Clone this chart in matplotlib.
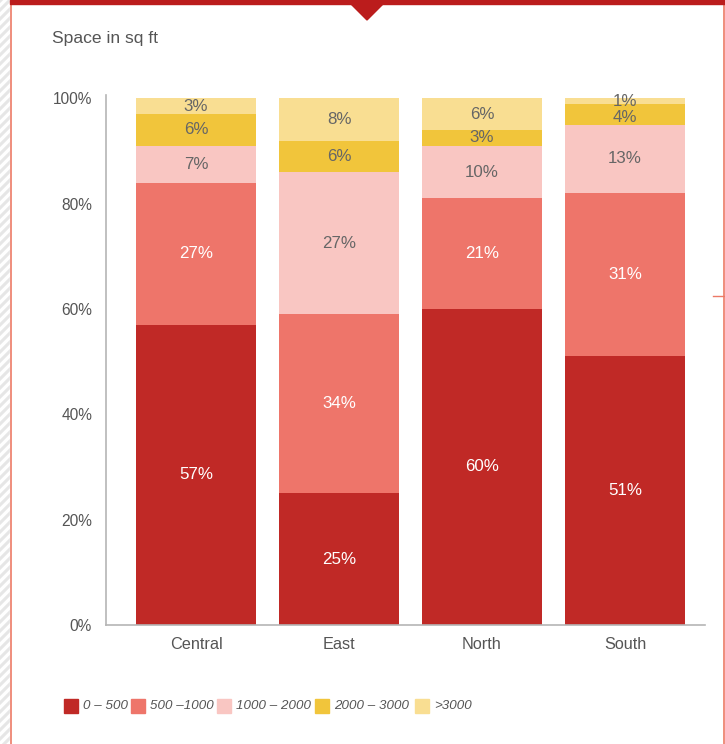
import numpy as np
import matplotlib.pyplot as plt
from matplotlib.patches import Rectangle, Polygon
from matplotlib.lines import Line2D

plt.rcParams['font.family'] = ['Liberation Sans', 'DejaVu Sans']

regions = ["Central", "East", "North", "South"]
bands = ["0 – 500", "500 –1000", "1000 – 2000", "2000 – 3000", ">3000"]
share_0_500 = [57, 25, 60, 51]
share_500_1000 = [27, 34, 21, 31]
share_1000_2000 = [7, 27, 10, 13]
share_2000_3000 = [6, 6, 3, 4]
share_over_3000 = [3, 8, 6, 1]

series = [share_0_500, share_500_1000, share_1000_2000, share_2000_3000, share_over_3000]
colors = ["#c02926", "#ee756a", "#f9c6c2", "#f1c53b", "#f9de92"]
label_colors = ["white", "white", "#666666", "#666666", "#666666"]

fig = plt.figure(figsize=(7.25, 7.44), dpi=100)
ax = fig.add_axes([106 / 725, 0.16, 599 / 725, 0.712])

x = np.arange(len(regions))
bottom = np.zeros(len(regions))
segments = []
for vals, col, tcol in zip(series, colors, label_colors):
    vals = np.array(vals, dtype=float)
    ax.bar(x, vals, width=0.84, bottom=bottom, color=col, linewidth=0)
    segments.append((bottom.copy(), vals, tcol))
    bottom += vals

# labels placed top-down so thin segments don't collide
for i, xi in enumerate(x):
    prev = None
    for b, vals, tcol in reversed(segments):
        y = b[i] + vals[i] / 2
        if prev is not None:
            y = min(y, prev - 3.2)
        prev = y
        ax.text(xi, y, f"{int(vals[i])}%", ha="center", va="center",
                color=tcol, fontsize=12.2)

ax.set_xlim(-0.63, 3.56)
ax.set_ylim(0, 100.6)
ax.set_yticks([0, 20, 40, 60, 80, 100])
ax.set_yticklabels([f"{t}%" for t in [0, 20, 40, 60, 80, 100]])
ax.set_xticks(x)
ax.set_xticklabels(regions)
ax.tick_params(axis="both", length=0, colors="#555555")
ax.tick_params(axis="y", pad=10, labelsize=11.2)
ax.tick_params(axis="x", pad=9, labelsize=11.7)
for s in ["top", "right"]:
    ax.spines[s].set_visible(False)
for s in ["left", "bottom"]:
    ax.spines[s].set_color("#b5b5b5")
    ax.spines[s].set_linewidth(1.2)

fig.text(52 / 725, 1 - 39 / 744, "Space in sq ft", fontsize=12.6,
         color="#555555", va="center", ha="left")

# legend row
lx = [64, 131, 217, 315, 415]
ly = 1 - 706 / 744
for px, col, name in zip(lx, colors, bands):
    fig.patches.append(Rectangle((px / 725, ly - 7 / 744), 14 / 725, 14 / 744,
                                 transform=fig.transFigure, color=col))
    fig.text((px + 19) / 725, ly, name, fontsize=9.6, style="italic",
             color="#555555", va="center", ha="left")

# frame decorations
W, H = 725, 744
def fx(v): return v / W
def fy(v): return 1 - v / H

# hatched left strip
for k in range(-10, 90):
    y0 = k * 9
    fig.lines.append(Line2D([fx(0), fx(10)], [fy(y0 + 10), fy(y0)],
                            transform=fig.transFigure, color="#e6e6e6", lw=2.2))
fig.patches.append(Rectangle((fx(10), 0), fx(10.5) - fx(10) + 0.0015, 1,
                             transform=fig.transFigure, color="white", zorder=3))
fig.lines.append(Line2D([fx(10.5), fx(10.5)], [0, 1], transform=fig.transFigure,
                        color="#ec7a66", lw=1.2, zorder=4))
fig.lines.append(Line2D([fx(723.5), fx(723.5)], [0, 1], transform=fig.transFigure,
                        color="#ec7a66", lw=1.2, zorder=4))
fig.lines.append(Line2D([fx(713), fx(723.5)], [fy(295.5), fy(295.5)],
                        transform=fig.transFigure, color="#ec7a66", lw=1.0, zorder=4))
fig.patches.append(Rectangle((fx(10), fy(4)), 1 - fx(10), fy(0) - fy(4),
                             transform=fig.transFigure, color="#bb1c1c", zorder=5))
fig.patches.append(Polygon([(fx(350), fy(3)), (fx(384), fy(3)), (fx(367), fy(20))],
                           closed=True, transform=fig.transFigure,
                           color="#bb1c1c", zorder=5))

fig.savefig("out.png", dpi=100)
